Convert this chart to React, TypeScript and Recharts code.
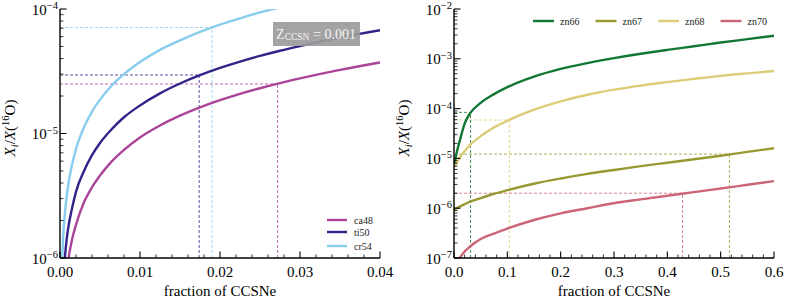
import React from 'react';
import { LineChart, Line, XAxis, YAxis, ReferenceLine, Legend } from 'recharts';

const FONT = "'Liberation Serif', 'Times New Roman', serif";
const TXT: React.CSSProperties = { fontFamily: FONT };

// ---------- Left panel data (fraction of CCSNe vs X_i/X(16O)) ----------
const LEFT_F = [0.0002, 0.0004, 0.0006, 0.0008, 0.001, 0.0015, 0.002, 0.003, 0.004, 0.005, 0.0065, 0.008, 0.01, 0.0125, 0.015, 0.0175, 0.02, 0.0225, 0.025, 0.0275, 0.03, 0.035, 0.04];
const CA48 = [1.85e-7, 3.7e-7, 5.6e-7, 7.4e-7, 9.3e-7, 1.4e-6, 1.85e-6, 2.8e-6, 3.7e-6, 4.6e-6, 6.0e-6, 7.4e-6, 9.3e-6, 1.16e-5, 1.39e-5, 1.62e-5, 1.85e-5, 2.08e-5, 2.31e-5, 2.54e-5, 2.77e-5, 3.24e-5, 3.72e-5];
const TI50 = [3.4e-7, 7.0e-7, 1.0e-6, 1.35e-6, 1.7e-6, 2.5e-6, 3.4e-6, 5.0e-6, 6.7e-6, 8.4e-6, 1.09e-5, 1.35e-5, 1.68e-5, 2.1e-5, 2.52e-5, 2.94e-5, 3.36e-5, 3.78e-5, 4.2e-5, 4.62e-5, 5.04e-5, 5.9e-5, 6.75e-5];
const CR54 = [7.5e-7, 1.5e-6, 2.25e-6, 3.0e-6, 3.75e-6, 5.6e-6, 7.5e-6, 1.12e-5, 1.5e-5, 1.87e-5, 2.44e-5, 3.0e-5, 3.75e-5, 4.7e-5, 5.6e-5, 6.55e-5, 7.5e-5, 8.4e-5, 9.4e-5, 1.03e-4, 1.12e-4, 1.31e-4, 1.5e-4];

// reference markers (fraction, abundance)
const LEFT_MARKS = [
  { key: 'ca48', f: 0.0272, y: 2.5e-5 },
  { key: 'ti50', f: 0.0174, y: 2.95e-5 },
  { key: 'cr54', f: 0.019, y: 7.1e-5 },
];

const LEFT_X_MAJOR = [0, 0.01, 0.02, 0.03, 0.04];
const LEFT_X_TICKS = [0, 0.002, 0.004, 0.006, 0.008, 0.01, 0.012, 0.014, 0.016, 0.018, 0.02, 0.022, 0.024, 0.026, 0.028, 0.03, 0.032, 0.034, 0.036, 0.038, 0.04];
const LEFT_Y_TICKS = [1e-6, 2e-6, 3e-6, 4e-6, 5e-6, 6e-6, 7e-6, 8e-6, 9e-6, 1e-5, 2e-5, 3e-5, 4e-5, 5e-5, 6e-5, 7e-5, 8e-5, 9e-5, 1e-4];

// ---------- Right panel data ----------
const RIGHT_F = [0, 0.005, 0.01, 0.02, 0.03, 0.05, 0.075, 0.1, 0.15, 0.2, 0.25, 0.3, 0.35, 0.4, 0.45, 0.5, 0.55, 0.6];
const ZN66 = [6.8e-6, 1.3e-5, 2.1e-5, 5.0e-5, 8.0e-5, 1.3e-4, 1.95e-4, 2.7e-4, 4.4e-4, 6.3e-4, 8.2e-4, 1.03e-3, 1.26e-3, 1.51e-3, 1.79e-3, 2.12e-3, 2.48e-3, 2.9e-3];
const ZN67 = [9.5e-7, 1.0e-6, 1.07e-6, 1.2e-6, 1.35e-6, 1.6e-6, 1.95e-6, 2.3e-6, 3.1e-6, 3.95e-6, 4.9e-6, 5.85e-6, 7.0e-6, 8.2e-6, 9.6e-6, 1.13e-5, 1.35e-5, 1.6e-5];
const ZN68 = [6.8e-6, 8.2e-6, 1.0e-5, 1.4e-5, 1.85e-5, 2.8e-5, 4.2e-5, 5.7e-5, 9.5e-5, 1.4e-4, 1.9e-4, 2.4e-4, 2.9e-4, 3.4e-4, 3.95e-4, 4.55e-4, 5.1e-4, 5.7e-4];
const ZN70 = [5e-8, 7e-8, 9.5e-8, 1.35e-7, 1.7e-7, 2.4e-7, 3.1e-7, 3.9e-7, 5.8e-7, 7.9e-7, 1.0e-6, 1.26e-6, 1.5e-6, 1.78e-6, 2.1e-6, 2.48e-6, 2.95e-6, 3.5e-6];

const RIGHT_MARKS = [
  { key: 'zn66', f: 0.031, y: 8.4e-5 },
  { key: 'zn68', f: 0.1036, y: 5.9e-5 },
  { key: 'zn67', f: 0.5165, y: 1.22e-5 },
  { key: 'zn70', f: 0.4285, y: 2.0e-6 },
];

const RIGHT_X_MAJOR = [0, 0.1, 0.2, 0.3, 0.4, 0.5, 0.6];
const RIGHT_X_TICKS = [0, 0.02, 0.04, 0.06, 0.08, 0.1, 0.12, 0.14, 0.16, 0.18, 0.2, 0.22, 0.24, 0.26, 0.28, 0.3, 0.32, 0.34, 0.36, 0.38, 0.4, 0.42, 0.44, 0.46, 0.48, 0.5, 0.52, 0.54, 0.56, 0.58, 0.6];
const RIGHT_Y_TICKS = [1e-7, 2e-7, 3e-7, 4e-7, 5e-7, 6e-7, 7e-7, 8e-7, 9e-7, 1e-6, 2e-6, 3e-6, 4e-6, 5e-6, 6e-6, 7e-6, 8e-6, 9e-6, 1e-5, 2e-5, 3e-5, 4e-5, 5e-5, 6e-5, 7e-5, 8e-5, 9e-5, 1e-4, 2e-4, 3e-4, 4e-4, 5e-4, 6e-4, 7e-4, 8e-4, 9e-4, 1e-3, 2e-3, 3e-3, 4e-3, 5e-3, 6e-3, 7e-3, 8e-3, 9e-3, 1e-2];

const COLORS: Record<string, string> = {
  ca48: '#AA4499',
  ti50: '#332288',
  cr54: '#88CCEE',
  zn66: '#117733',
  zn67: '#999933',
  zn68: '#DDCC77',
  zn70: '#CC6677',
};

const leftData = LEFT_F.map((f, i) => ({ f, ca48: CA48[i], ti50: TI50[i], cr54: CR54[i] }));
const rightData = RIGHT_F.map((f, i) => ({ f, zn66: ZN66[i], zn67: ZN67[i], zn68: ZN68[i], zn70: ZN70[i] }));

function YTick(props: any) {
  const { x, y, payload } = props;
  const v = payload.value;
  const lg = Math.log10(v);
  const e = Math.round(lg);
  const major = Math.abs(lg - e) < 1e-6;
  return (
    <g>
      <line x1={x} x2={x + (major ? 6.5 : 3.5)} y1={y} y2={y} stroke="#000" strokeWidth={major ? 1.1 : 0.8} />
      {major && (
        <text x={x - 2} y={y + 5.5} textAnchor="end" style={TXT} fontSize={15} fill="#000">
          10<tspan dy={-5.5} fontSize={10.5}>{'\u2212' + -e}</tspan>
        </text>
      )}
    </g>
  );
}

function makeXTick(majors: number[], digits: number) {
  return function XTick(props: any) {
    const { x, y, payload } = props;
    const v = payload.value;
    const major = majors.some((m) => Math.abs(m - v) < 1e-9);
    return (
      <g>
        <line x1={x} x2={x} y1={y} y2={y - (major ? 6.5 : 3.5)} stroke="#000" strokeWidth={major ? 1.1 : 0.8} />
        {major && (
          <text x={x} y={y + 18.5} textAnchor="middle" style={TXT} fontSize={15} fill="#000">
            {v.toFixed(digits)}
          </text>
        )}
      </g>
    );
  };
}

function YTitle({ x, y }: { x: number; y: number }) {
  return (
    <text transform={`rotate(-90 ${x} ${y})`} x={x} y={y} textAnchor="middle" style={TXT} fontSize={15} fill="#000">
      <tspan fontStyle="italic">X</tspan>
      <tspan fontStyle="italic" fontSize={10.5} dy={3}>i</tspan>
      <tspan dy={-3}>/</tspan>
      <tspan fontStyle="italic">X</tspan>
      <tspan>(</tspan>
      <tspan fontSize={10.5} dy={-6}>16</tspan>
      <tspan dy={6}>O)</tspan>
    </text>
  );
}

function XTitle() {
  return (
    <text x={220} y={296} textAnchor="middle" style={TXT} fontSize={15} fill="#000">
      fraction of CCSNe
    </text>
  );
}

function pick(payload: any[], keys: string[]) {
  return keys.map((k) => {
    const found = payload.find((p: any) => p.value === k || p.dataKey === k);
    return { value: k, color: found ? found.color : COLORS[k] };
  });
}

function LeftLegend(props: any) {
  const items = pick(props.payload || [], ['ca48', 'ti50', 'cr54']);
  const rows = [220, 232, 246];
  return (
    <svg width={400} height={303} style={{ position: 'absolute', left: 0, top: 0, overflow: 'visible' }}>
      <rect x={273} y={22} width={87} height={24} fill="#9b9b9b" opacity={0.92} />
      <text x={316} y={39} textAnchor="middle" style={TXT} fontSize={14} fill="#f4f4f4">
        Z<tspan fontSize={9.5} dy={1}>CCSN</tspan>
        <tspan dy={-1}> = 0.001</tspan>
      </text>
      {items.map((p: any, i: number) => (
        <g key={p.value}>
          <line x1={327} x2={347} y1={rows[i]} y2={rows[i]} stroke={p.color} strokeWidth={2.4} />
          <text x={354} y={rows[i] + 3.5} style={TXT} fontSize={10} fill="#222">
            {p.value}
          </text>
        </g>
      ))}
    </svg>
  );
}

function RightLegend(props: any) {
  const items = pick(props.payload || [], ['zn66', 'zn67', 'zn68', 'zn70']);
  return (
    <svg width={394} height={303} style={{ position: 'absolute', left: 0, top: 0, overflow: 'visible' }}>
      {items.map((p: any, i: number) => {
        const x0 = 139 + i * 62.5;
        return (
          <g key={p.value}>
            <line x1={x0} x2={x0 + 21} y1={21} y2={21} stroke={p.color} strokeWidth={2.4} />
            <text x={x0 + 27} y={24.5} style={TXT} fontSize={10} fill="#222">
              {p.value}
            </text>
          </g>
        );
      })}
    </svg>
  );
}

type PanelProps = {
  left: number;
  width: number;
  data: any[];
  keys: string[];
  xDomain: [number, number];
  xTicks: number[];
  xMajor: number[];
  digits: number;
  yDomain: [number, number];
  yTicks: number[];
  marks: { key: string; f: number; y: number }[];
  legend: (p: any) => React.ReactNode;
  titleX: number;
};

function Panel(p: PanelProps) {
  const XTick = makeXTick(p.xMajor, p.digits);
  return (
    <div style={{ position: 'absolute', left: p.left, top: 0 }}>
      <LineChart width={p.width} height={303} data={p.data} margin={{ top: 9, right: p.width - 60 - 320, bottom: 0, left: 0 }}>
        <XAxis
          dataKey="f"
          type="number"
          domain={p.xDomain}
          ticks={p.xTicks}
          allowDataOverflow
          height={45}
          tickSize={0}
          tickMargin={0}
          tickLine={false}
          tick={<XTick />}
          interval={0}
          axisLine={{ stroke: '#000', strokeWidth: 1.4 }}
          label={{ content: () => <XTitle /> }}
        />
        <XAxis xAxisId="top" orientation="top" type="number" domain={p.xDomain} height={0} tick={false} tickLine={false} axisLine={{ stroke: '#000', strokeWidth: 1.4 }} />
        <YAxis
          type="number"
          scale="log"
          domain={p.yDomain}
          ticks={p.yTicks}
          allowDataOverflow
          width={60}
          tickSize={0}
          tickMargin={0}
          tickLine={false}
          interval={0}
          tick={<YTick />}
          axisLine={{ stroke: '#000', strokeWidth: 1.4 }}
          label={{ content: () => <YTitle x={p.titleX} y={128} /> }}
        />
        <YAxis yAxisId="r" orientation="right" type="number" domain={[0, 1]} width={0} tick={false} tickLine={false} axisLine={{ stroke: '#000', strokeWidth: 1.4 }} />
        {p.marks.map((m) => (
          <ReferenceLine
            key={m.key + 'h'}
            segment={[{ x: p.xDomain[0], y: m.y }, { x: m.f, y: m.y }]}
            stroke={COLORS[m.key]}
            strokeWidth={0.8}
            strokeDasharray="3 2"
            ifOverflow="visible"
          />
        ))}
        {p.marks.map((m) => (
          <ReferenceLine
            key={m.key + 'v'}
            segment={[{ x: m.f, y: p.yDomain[0] }, { x: m.f, y: m.y }]}
            stroke={COLORS[m.key]}
            strokeWidth={0.8}
            strokeDasharray="3 2"
            ifOverflow="visible"
          />
        ))}
        {p.keys.map((k) => (
          <Line key={k} dataKey={k} name={k} type="monotone" stroke={COLORS[k]} strokeWidth={2.4} dot={false} isAnimationActive={false} />
        ))}
        <Legend
          layout="horizontal"
          verticalAlign="middle"
          align="center"
          wrapperStyle={{ position: 'absolute', left: 0, top: 0, width: p.width, height: 303, pointerEvents: 'none' }}
          content={p.legend as any}
        />
      </LineChart>
    </div>
  );
}

export default function App() {
  return (
    <div style={{ position: 'absolute', left: 0, top: 0, width: 788, height: 303, background: '#fff' }}>
      <Panel
        left={0}
        width={400}
        data={leftData}
        keys={['ca48', 'ti50', 'cr54']}
        xDomain={[0, 0.04]}
        xTicks={LEFT_X_TICKS}
        xMajor={LEFT_X_MAJOR}
        digits={2}
        yDomain={[1e-6, 1e-4]}
        yTicks={LEFT_Y_TICKS}
        marks={LEFT_MARKS}
        legend={(props: any) => <LeftLegend {...props} />}
        titleX={15}
      />
      <Panel
        left={394}
        width={394}
        data={rightData}
        keys={['zn66', 'zn67', 'zn68', 'zn70']}
        xDomain={[0, 0.6]}
        xTicks={RIGHT_X_TICKS}
        xMajor={RIGHT_X_MAJOR}
        digits={1}
        yDomain={[1e-7, 1e-2]}
        yTicks={RIGHT_Y_TICKS}
        marks={RIGHT_MARKS}
        legend={(props: any) => <RightLegend {...props} />}
        titleX={15}
      />
    </div>
  );
}
